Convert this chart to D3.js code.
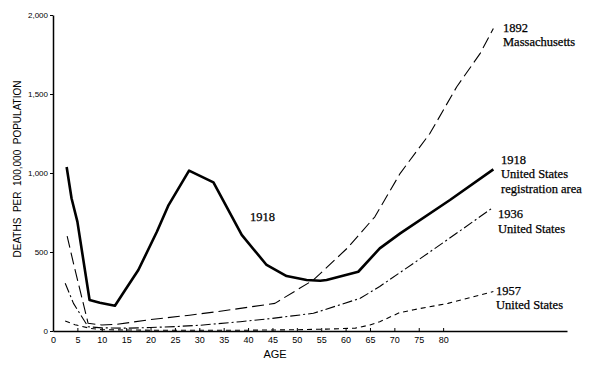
<!DOCTYPE html>
<html><head><meta charset="utf-8">
<script src="https://cdn.jsdelivr.net/npm/d3@7"></script>
<style>body{margin:0;background:#fff;} svg{display:block;}</style>
</head><body>
<svg id="c" width="600" height="371"></svg>
<script>
// Data
const ages1918 = [2.8,3.8,5,7.5,9.6,12.7,14.8,17.5,21.3,23.7,27.9,32.9,38.7,43.8,47.9,52,54.8,56.1,62.6,67,71.2,81.4,90.3];
const deaths1918 = [1038,840,692,196,179,160,259,386,628,797,1015,941,608,418,348,323,318,323,375,523,618,829,1023];

const ages1892 = [2.9,4.2,7.2,10,13,20,28,35,45.5,53.4,60.3,66,71.2,77.3,82.8,87.6,90.3];
const deaths1892 = [601,428,49,38,42,72,100,128,175,323,523,723,998,1251,1546,1757,1915];

const ages1936 = [2.5,4.2,7.2,10,15,20,25,30,38.4,45,53.4,63,67,73.9,80.8,90.3];
const deaths1936 = [302,175,27,20,18,22,28,36,59,80,112,207,282,428,576,783];

const ages1957 = [2.5,4.5,7.6,10,20,30,40,50,56,62,65,67,71,74,81,90.3];
const deaths1957 = [63,40,17,8,5,5,5,8,12,18,38,59,115,135,175,250];

const xTicks = [0,5,10,15,20,25,30,35,40,45,50,55,60,65,70,75,80];
const yTicks = [0,500,1000,1500,2000];
const yTickLabels = ["0","500","1,000","1,500","2,000"];

const svg = d3.select("#c");
const x = d3.scaleLinear().domain([0,105.4]).range([53,567]);
const y = d3.scaleLinear().domain([0,2000]).range([331,15]);

const sans = "Liberation Sans, Arial, sans-serif";

// axes
const xAxis = d3.axisBottom(x).tickValues(xTicks).tickSizeInner(-3).tickSizeOuter(0).tickPadding(6);
const gx = svg.append("g").attr("transform","translate(0,331)").call(xAxis);
gx.select(".domain").attr("stroke","#000").attr("stroke-width",1.3);
gx.selectAll("text").attr("font-family",sans).attr("font-size",9).attr("fill","#000");

const yAxis = d3.axisLeft(y).tickValues(yTicks).tickFormat((d,i)=>yTickLabels[i]).tickSizeInner(3).tickSizeOuter(0).tickPadding(2);
const gy = svg.append("g").attr("transform","translate(53,0)").call(yAxis);
gy.select(".domain").attr("stroke","#000").attr("stroke-width",1.5);
gy.selectAll("text").attr("font-family",sans).attr("font-size",8).attr("fill","#000");

svg.append("text").attr("x",275).attr("y",358).attr("text-anchor","middle")
  .attr("font-family",sans).attr("font-size",11).text("AGE");
svg.append("text").attr("transform","translate(21,169) rotate(-90)").attr("text-anchor","middle")
  .attr("font-family",sans).attr("font-size",10)
  .style("white-space","pre").text("DEATHS  PER  100,000  POPULATION");

const line = d3.line().x(d=>x(d[0])).y(d=>y(d[1]));
const series = [
  {a:ages1892, v:deaths1892, w:1.1, dash:"12,5"},
  {a:ages1936, v:deaths1936, w:1.1, dash:"10,3,2,3"},
  {a:ages1957, v:deaths1957, w:1.1, dash:"5,4"},
  {a:ages1918, v:deaths1918, w:2.6, dash:null}
];
series.forEach(s=>{
  svg.append("path").datum(d3.zip(s.a,s.v)).attr("d",line)
    .attr("fill","none").attr("stroke","#000").attr("stroke-width",s.w)
    .attr("stroke-linejoin","round")
    .attr("stroke-dasharray",s.dash);
});

const serif = "Liberation Serif, Times New Roman, serif";
const labels = [
  {t:"1918", x:250, y:221},
  {t:"1892", x:503, y:32},
  {t:"Massachusetts", x:503, y:46},
  {t:"1918", x:501, y:164},
  {t:"United States", x:501, y:178},
  {t:"registration area", x:501, y:193},
  {t:"1936", x:498, y:218},
  {t:"United States", x:498, y:233},
  {t:"1957", x:496, y:295},
  {t:"United States", x:496, y:309}
];
labels.forEach(l=>{
  svg.append("text").attr("x",l.x).attr("y",l.y).attr("font-family",serif)
    .attr("font-size",12.5).attr("fill","#000")
    .attr("stroke","#000").attr("stroke-width",0.25).text(l.t);
});
</script>
</body></html>
